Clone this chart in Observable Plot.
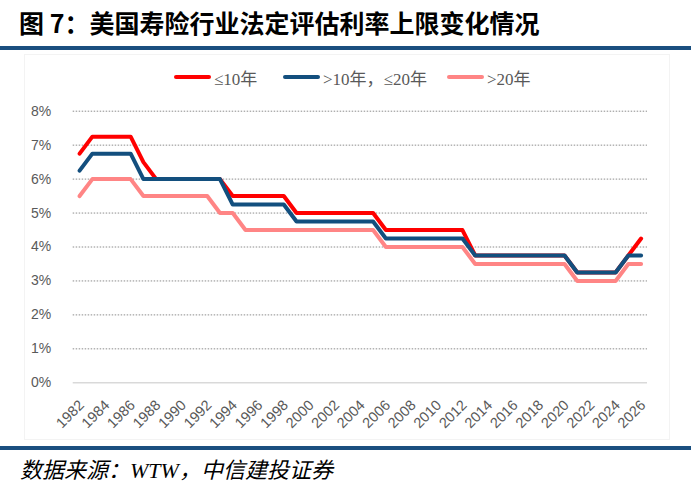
<!DOCTYPE html>
<html>
<head>
<meta charset="utf-8">
<script src="https://cdn.jsdelivr.net/npm/d3@7"></script>
<script src="https://cdn.jsdelivr.net/npm/@observablehq/plot@0.6"></script>
<style>
  html, body { margin: 0; padding: 0; background: #fff; }
  #page { position: relative; width: 691px; height: 495px; overflow: hidden; background: #fff; }
  #title { position: absolute; left: 19px; top: 8px; font-family: "Noto Sans CJK SC", sans-serif; font-weight: 700; font-size: 25px; line-height: 29px; color: #000; white-space: nowrap; }
  .rule { position: absolute; left: 0; width: 691px; height: 4px; background: #1a4f7f; }
  #frame { position: absolute; left: 24px; top: 54px; width: 646px; height: 386px; border: 1px solid #f3f3f3; box-sizing: border-box; }
  #legend { position: absolute; top: 66px; left: 0; width: 691px; height: 22px; font-family: "Liberation Serif", "Noto Sans CJK SC", serif; font-size: 17px; color: #595959; }
  .item { position: absolute; top: 0; height: 22px; display: flex; align-items: center; white-space: nowrap; }
  .sw { display: inline-block; width: 37px; height: 4px; border-radius: 2px; margin-right: 3px; }
  #chart { position: absolute; left: 0; top: 95px; }
  #source { position: absolute; left: 20px; top: 459px; font-family: "Liberation Serif", "Noto Sans CJK SC", serif; font-style: italic; font-size: 22px; line-height: 24px; color: #000; white-space: nowrap; }
</style>
</head>
<body>
<div id="page">
  <div id="title">图 7：美国寿险行业法定评估利率上限变化情况</div>
  <div class="rule" style="top:46px;"></div>
  <div id="frame"></div>
  <div id="legend"></div>
  <div id="chart"></div>
  <div class="rule" style="top:446px;"></div>
  <div id="source">数据来源：WTW，中信建投证券</div>
</div>
<script>
const years = [1982,1983,1984,1985,1986,1987,1988,1989,1990,1991,1992,1993,1994,1995,1996,1997,1998,1999,2000,2001,2002,2003,2004,2005,2006,2007,2008,2009,2010,2011,2012,2013,2014,2015,2016,2017,2018,2019,2020,2021,2022,2023,2024,2025,2026];
const le10 = [6.75,7.25,7.25,7.25,7.25,6.5,6,6,6,6,6,6,5.5,5.5,5.5,5.5,5.5,5,5,5,5,5,5,5,4.5,4.5,4.5,4.5,4.5,4.5,4.5,3.75,3.75,3.75,3.75,3.75,3.75,3.75,3.75,3.25,3.25,3.25,3.25,3.75,4.25];
const gt10le20 = [6.25,6.75,6.75,6.75,6.75,6,6,6,6,6,6,6,5.25,5.25,5.25,5.25,5.25,4.75,4.75,4.75,4.75,4.75,4.75,4.75,4.25,4.25,4.25,4.25,4.25,4.25,4.25,3.75,3.75,3.75,3.75,3.75,3.75,3.75,3.75,3.25,3.25,3.25,3.25,3.75,3.75];
const gt20 = [5.5,6,6,6,6,5.5,5.5,5.5,5.5,5.5,5.5,5,5,4.5,4.5,4.5,4.5,4.5,4.5,4.5,4.5,4.5,4.5,4.5,4,4,4,4,4,4,4,3.5,3.5,3.5,3.5,3.5,3.5,3.5,3.5,3,3,3,3,3.5,3.5];
const seriesNames = ["≤10年", ">10年，≤20年", ">20年"];
const seriesColors = ["#ff0000", "#134f7e", "#ff8585"];
const yTicks = [0,1,2,3,4,5,6,7,8];
const xTicks = [1982,1984,1986,1988,1990,1992,1994,1996,1998,2000,2002,2004,2006,2008,2010,2012,2014,2016,2018,2020,2022,2024,2026];

const seriesValues = [le10, gt10le20, gt20];
const rows = [];
seriesNames.forEach((name, i) => {
  years.forEach((yr, j) => rows.push({series: name, year: yr, value: seriesValues[i][j]}));
});

// legend
const legendPos = [174, 283, 447];
const legend = document.getElementById("legend");
seriesNames.forEach((name, i) => {
  const it = document.createElement("div");
  it.className = "item";
  it.style.left = legendPos[i] + "px";
  it.innerHTML = `<span class="sw" style="background:${seriesColors[i]}"></span><span>${name}</span>`;
  legend.appendChild(it);
});

const W = 691, H = 340;
const chart = Plot.plot({
  width: W,
  height: H,
  marginLeft: 72.7,
  marginRight: 44,
  marginTop: 15.7,
  marginBottom: 52.7,
  insetLeft: 6.4,
  insetRight: 6.4,
  style: {background: "transparent", fontFamily: "'Liberation Sans', Arial, sans-serif", fontSize: "13px", color: "#595959"},
  x: {domain: [1982, 2026], ticks: xTicks, tickFormat: d => String(d), label: null},
  y: {domain: [0, 8], ticks: yTicks, tickFormat: d => d + "%", label: null},
  color: {domain: seriesNames, range: seriesColors},
  marks: [
    Plot.ruleY(yTicks.filter(d => d > 0), {stroke: "#8c8c8c", strokeWidth: 1, strokeDasharray: "1.5,1.5"}),
    Plot.ruleY([0], {stroke: "#d9d9d9", strokeWidth: 1.5}),
    Plot.axisY({ticks: yTicks, tickFormat: d => d + "%", tickSize: 0, tickPadding: 22, fontSize: 14, fill: "#595959"}),
    Plot.axisX({ticks: xTicks, tickFormat: d => String(d), tickSize: 0, tickPadding: 13, dy: 7, dx: 2, tickRotate: -45, fontSize: 14.5, fill: "#595959"}),
    Plot.line(rows.filter(d => d.series === seriesNames[0]), {x: "year", y: "value", stroke: seriesColors[0], strokeWidth: 4, strokeLinejoin: "round", strokeLinecap: "round"}),
    Plot.line(rows.filter(d => d.series === seriesNames[2]), {x: "year", y: "value", stroke: seriesColors[2], strokeWidth: 4, strokeLinejoin: "round", strokeLinecap: "round"}),
    Plot.line(rows.filter(d => d.series === seriesNames[1]), {x: "year", y: "value", stroke: seriesColors[1], strokeWidth: 4, strokeLinejoin: "round", strokeLinecap: "round"})
  ]
});
document.getElementById("chart").appendChild(chart);
</script>
</body>
</html>
